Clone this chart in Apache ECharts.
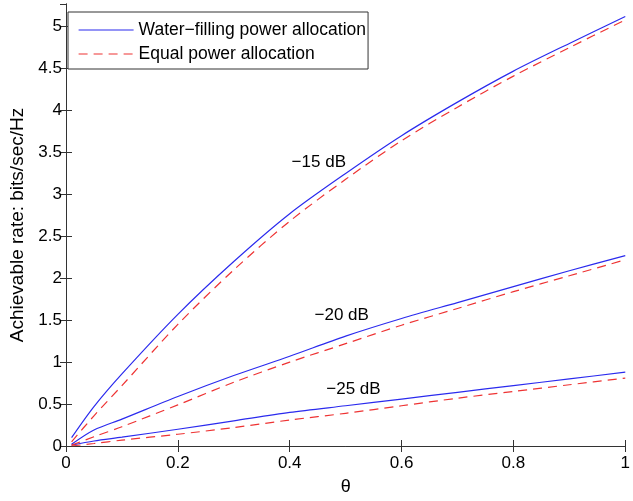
<!DOCTYPE html>
<html>
<head>
<meta charset="utf-8">
<script src="https://cdn.jsdelivr.net/npm/echarts@6/dist/echarts.min.js"></script>
<style>
  html, body { margin: 0; padding: 0; background: #fff; }
  #main { width: 633px; height: 501px; }
</style>
</head>
<body>
<div id="main"></div>
<script>
// theta values (x axis)
var theta = [0.01, 0.05, 0.1, 0.2, 0.3, 0.4, 0.5, 0.6, 0.7, 0.8, 0.9, 1.0];

// -15 dB
var wf15 = [0.10, 0.47, 0.86, 1.57, 2.20, 2.77, 3.25, 3.70, 4.10, 4.47, 4.80, 5.12];
var eq15 = [0.05, 0.36, 0.72, 1.45, 2.10, 2.68, 3.18, 3.64, 4.04, 4.41, 4.75, 5.08];
// -20 dB
var wf20 = [0.02, 0.19, 0.32, 0.59, 0.84, 1.07, 1.31, 1.52, 1.71, 1.90, 2.09, 2.27];
var eq20 = [0.01, 0.11, 0.23, 0.49, 0.76, 1.00, 1.22, 1.44, 1.64, 1.84, 2.03, 2.22];
// -25 dB
var wf25 = [0.01, 0.06, 0.105, 0.20, 0.30, 0.40, 0.48, 0.56, 0.64, 0.72, 0.80, 0.88];
var eq25 = [0.00, 0.03, 0.07, 0.14, 0.22, 0.31, 0.39, 0.48, 0.57, 0.65, 0.73, 0.81];

// curve labels
var labelText = ['\u221215 dB', '\u221220 dB', '\u221225 dB'];
var labelX = [0.452, 0.493, 0.514];
var labelY = [3.38, 1.556, 0.68];

var wfName = 'Water\u2212filling power allocation';
var eqName = 'Equal power allocation';

function pairs(ys) {
  return theta.map(function (t, i) { return [t, ys[i]]; });
}

var axisColor = '#333';
var font = 'Liberation Sans, Arial, sans-serif';

function lineSeries(name, ys, dashed) {
  return {
    name: name,
    type: 'line',
    data: pairs(ys),
    symbol: 'none',
    smooth: 0.3,
    lineStyle: {
      color: dashed ? '#ee3333' : '#2b2bee',
      width: 1.2,
      type: dashed ? [9, 6] : 'solid'
    },
    itemStyle: { color: dashed ? '#ee3333' : '#2b2bee' },
    z: dashed ? 3 : 2
  };
}

var myChart = echarts.init(document.getElementById('main'));

var option = {
  animation: false,
  backgroundColor: '#fff',
  textStyle: { fontFamily: font },
  grid: { left: 63, right: 1, top: 4, bottom: 47 },
  legend: {
    data: [wfName, eqName],
    orient: 'vertical',
    left: 68,
    top: 12,
    itemWidth: 55,
    itemHeight: 14,
    itemGap: 6,
    padding: [9, 2, 6, 10],
    borderColor: '#333',
    borderWidth: 1,
    borderRadius: 0,
    backgroundColor: '#fff',
    itemStyle: { opacity: 0 },
    lineStyle: { width: 1.2 },
    textStyle: { fontSize: 17.5, color: '#000', fontFamily: font }
  },
  xAxis: [
    {
      type: 'value',
      min: 0, max: 1, interval: 0.2,
      name: '\u03b8',
      nameLocation: 'middle',
      nameGap: 32,
      nameTextStyle: { fontSize: 18, color: '#000', fontFamily: font },
      axisLine: { lineStyle: { color: axisColor, width: 1 } },
      axisTick: { inside: true, length: 6, lineStyle: { color: axisColor } },
      axisLabel: { fontSize: 17, color: '#000', margin: 9 },
      splitLine: { show: false }
    },
    {
      type: 'value',
      position: 'top',
      min: 0, max: 1, interval: 0.2,
      axisLine: { show: true, lineStyle: { color: axisColor, width: 1 } },
      axisTick: { inside: true, length: 6, lineStyle: { color: axisColor } },
      axisLabel: { show: false },
      splitLine: { show: false }
    }
  ],
  yAxis: [
    {
      type: 'value',
      min: 0, max: 5.27, interval: 0.5,
      name: 'Achievable rate: bits/sec/Hz',
      nameLocation: 'middle',
      nameGap: 39,
      nameTextStyle: { fontSize: 19, color: '#000', fontFamily: font },
      axisLine: { show: true, lineStyle: { color: axisColor, width: 1 } },
      axisTick: { inside: true, length: 6, lineStyle: { color: axisColor } },
      axisLabel: { fontSize: 17, color: '#000', margin: 4, showMaxLabel: false },
      splitLine: { show: false }
    },
    {
      type: 'value',
      position: 'right',
      min: 0, max: 5.27, interval: 0.5,
      axisLine: { show: true, lineStyle: { color: axisColor, width: 1 } },
      axisTick: { inside: true, length: 6, lineStyle: { color: axisColor } },
      axisLabel: { show: false },
      splitLine: { show: false }
    }
  ],
  series: [
    lineSeries(wfName, wf15, false),
    lineSeries(eqName, eq15, true),
    lineSeries(wfName, wf20, false),
    lineSeries(eqName, eq20, true),
    lineSeries(wfName, wf25, false),
    lineSeries(eqName, eq25, true),
    {
      name: 'labels',
      type: 'scatter',
      symbolSize: 0,
      itemStyle: { opacity: 1 },
      data: labelX.map(function (x, i) { return { value: [x, labelY[i]], name: labelText[i] }; }),
      label: {
        show: true,
        position: [0, 0],
        align: 'center',
        verticalAlign: 'middle',
        formatter: function (p) { return p.name; },
        fontSize: 17,
        color: '#000',
        opacity: 1,
        fontFamily: font
      },
      silent: true,
      z: 5
    }
  ]
};

myChart.setOption(option);
</script>
</body>
</html>
